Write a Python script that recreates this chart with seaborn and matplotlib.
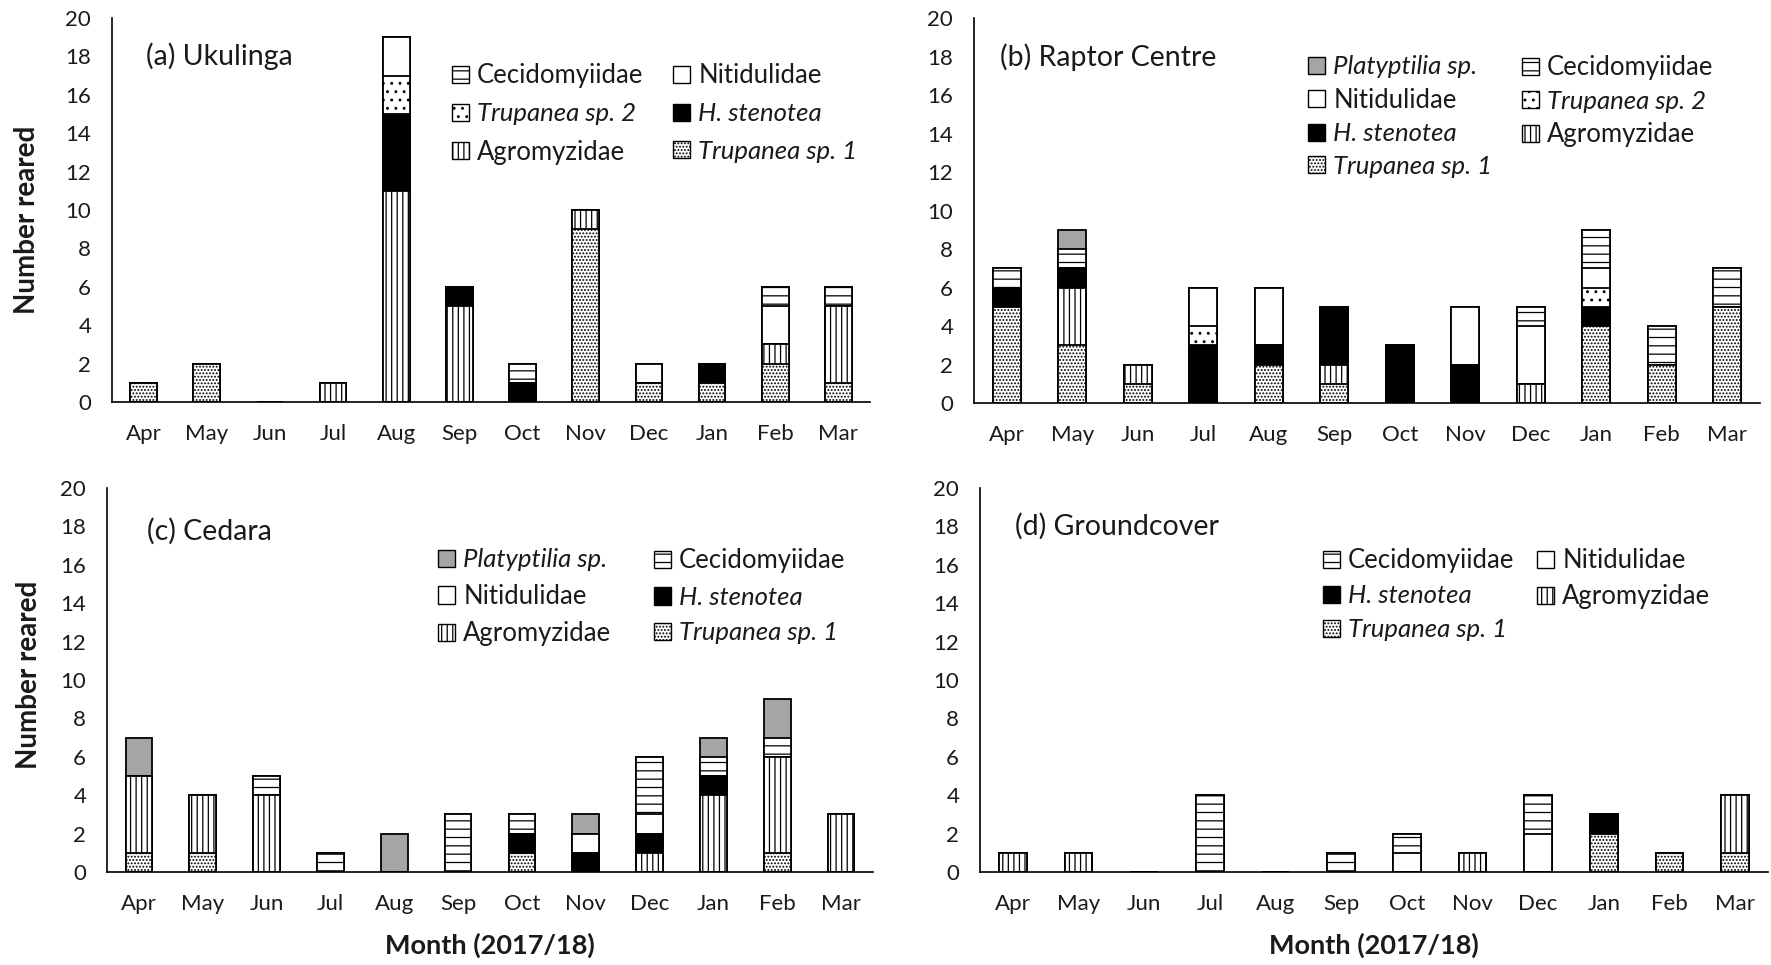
import numpy as np
import pandas as pd
import matplotlib
matplotlib.use("Agg")
import matplotlib.pyplot as plt
import seaborn as sns
from matplotlib.patches import Patch

months = ["Apr", "May", "Jun", "Jul", "Aug", "Sep", "Oct", "Nov", "Dec", "Jan", "Feb", "Mar"]

# stack order, bottom to top
species = ["Trupanea sp. 1", "Agromyzidae", "H. stenotea", "Trupanea sp. 2",
           "Nitidulidae", "Cecidomyiidae", "Platyptilia sp."]
italic_names = ["Trupanea sp. 1", "Trupanea sp. 2", "H. stenotea", "Platyptilia sp."]

# (a) Ukulinga
uk_trup1 = [1, 2, 0, 0, 0, 0, 0, 9, 1, 1, 2, 1]
uk_agro = [0, 0, 0, 1, 11, 5, 0, 1, 0, 0, 1, 4]
uk_hsten = [0, 0, 0, 0, 4, 1, 1, 0, 0, 1, 0, 0]
uk_trup2 = [0, 0, 0, 0, 2, 0, 0, 0, 0, 0, 0, 0]
uk_nitid = [0, 0, 0, 0, 2, 0, 0, 0, 1, 0, 2, 0]
uk_cecid = [0, 0, 0, 0, 0, 0, 1, 0, 0, 0, 1, 1]
uk_platy = [0, 0, 0, 0, 0, 0, 0, 0, 0, 0, 0, 0]

# (b) Raptor Centre
rc_trup1 = [5, 3, 1, 0, 2, 1, 0, 0, 0, 4, 2, 5]
rc_agro = [0, 3, 1, 0, 0, 1, 0, 0, 1, 0, 0, 0]
rc_hsten = [1, 1, 0, 3, 1, 3, 3, 2, 0, 1, 0, 0]
rc_trup2 = [0, 0, 0, 1, 0, 0, 0, 0, 0, 1, 0, 0]
rc_nitid = [0, 0, 0, 2, 3, 0, 0, 3, 3, 1, 0, 0]
rc_cecid = [1, 1, 0, 0, 0, 0, 0, 0, 1, 2, 2, 2]
rc_platy = [0, 1, 0, 0, 0, 0, 0, 0, 0, 0, 0, 0]

# (c) Cedara
ce_trup1 = [1, 1, 0, 0, 0, 0, 1, 0, 0, 0, 1, 0]
ce_agro = [4, 3, 4, 0, 0, 0, 0, 0, 1, 4, 5, 3]
ce_hsten = [0, 0, 0, 0, 0, 0, 1, 1, 1, 1, 0, 0]
ce_trup2 = [0, 0, 0, 0, 0, 0, 0, 0, 0, 0, 0, 0]
ce_nitid = [0, 0, 0, 0, 0, 0, 0, 1, 1, 0, 0, 0]
ce_cecid = [0, 0, 1, 1, 0, 3, 1, 0, 3, 1, 1, 0]
ce_platy = [2, 0, 0, 0, 2, 0, 0, 1, 0, 1, 2, 0]

# (d) Groundcover
gc_trup1 = [0, 0, 0, 0, 0, 0, 0, 0, 0, 2, 1, 1]
gc_agro = [1, 1, 0, 0, 0, 0, 0, 1, 0, 0, 0, 3]
gc_hsten = [0, 0, 0, 0, 0, 0, 0, 0, 0, 1, 0, 0]
gc_trup2 = [0, 0, 0, 0, 0, 0, 0, 0, 0, 0, 0, 0]
gc_nitid = [0, 0, 0, 0, 0, 0, 1, 0, 2, 0, 0, 0]
gc_cecid = [0, 0, 0, 4, 0, 1, 1, 0, 2, 0, 0, 0]
gc_platy = [0, 0, 0, 0, 0, 0, 0, 0, 0, 0, 0, 0]

sites = [
    ("(a) Ukulinga", [uk_trup1, uk_agro, uk_hsten, uk_trup2, uk_nitid, uk_cecid, uk_platy]),
    ("(b) Raptor Centre", [rc_trup1, rc_agro, rc_hsten, rc_trup2, rc_nitid, rc_cecid, rc_platy]),
    ("(c) Cedara", [ce_trup1, ce_agro, ce_hsten, ce_trup2, ce_nitid, ce_cecid, ce_platy]),
    ("(d) Groundcover", [gc_trup1, gc_agro, gc_hsten, gc_trup2, gc_nitid, gc_cecid, gc_platy]),
]

legend_cols = [
    (["Cecidomyiidae", "Trupanea sp. 2", "Agromyzidae"],
     ["Nitidulidae", "H. stenotea", "Trupanea sp. 1"]),
    (["Platyptilia sp.", "Nitidulidae", "H. stenotea", "Trupanea sp. 1"],
     ["Cecidomyiidae", "Trupanea sp. 2", "Agromyzidae"]),
    (["Platyptilia sp.", "Nitidulidae", "Agromyzidae"],
     ["Cecidomyiidae", "H. stenotea", "Trupanea sp. 1"]),
    (["Cecidomyiidae", "H. stenotea", "Trupanea sp. 1"],
     ["Nitidulidae", "Agromyzidae"]),
]

styles = {
    "Trupanea sp. 1": dict(color="white", hatch="....."),
    "Agromyzidae": dict(color="white", hatch="|||"),
    "H. stenotea": dict(color="black", hatch=None),
    "Trupanea sp. 2": dict(color="white", hatch=".."),
    "Nitidulidae": dict(color="white", hatch=None),
    "Cecidomyiidae": dict(color="white", hatch="--"),
    "Platyptilia sp.": dict(color="#a5a5a5", hatch=None),
}

sns.set_style("white")
plt.rcParams["font.family"] = ["Lato", "DejaVu Sans"]
plt.rcParams["hatch.linewidth"] = 0.9

W, H = 1771, 965
fig = plt.figure(figsize=(W / 100, H / 100), dpi=100)

# axes boxes in pixels: left, right, top, bottom
boxes = [(112, 870, 18, 402), (974, 1760, 18, 403), (107, 873, 488, 872), (980, 1768, 488, 872)]
title_pos = [(146, 56), (1000, 57), (147, 531), (1015, 526)]
leg_pos = [((452, 673), 75, 0.55), ((1308, 1522), 67, 0.37), ((438, 654), 560, 0.49), ((1323, 1537), 560, 0.43)]
LEG_FS = 18.5


def add_legend(ax, names, x_px, y_center, spacing):
    handles = [Patch(facecolor=styles[n]["color"], hatch=styles[n]["hatch"],
                     edgecolor="black", linewidth=1.0) for n in names]
    leg = ax.legend(handles, names, loc="upper left",
                    bbox_to_anchor=(x_px / W, 1 - (y_center - 11.7) / H),
                    bbox_transform=fig.transFigure, frameon=False, fontsize=LEG_FS,
                    handlelength=0.66, handleheight=0.66, handletextpad=0.32,
                    borderpad=0, borderaxespad=0, labelspacing=spacing)
    for t in leg.get_texts():
        if t.get_text() in italic_names:
            t.set_fontstyle("italic")
        t.set_color("#1a1a1a")
    ax.add_artist(leg)
    ax.legend_ = None


for i, (title, counts) in enumerate(sites):
    l, r, t, b = boxes[i]
    ax = fig.add_axes([l / W, 1 - b / H, (r - l) / W, (b - t) / H])
    cum = np.cumsum(np.array(counts), axis=0)
    # draw from the top layer down so each lower segment covers the one above
    for k in range(len(species) - 1, -1, -1):
        st = styles[species[k]]
        sns.barplot(x=months, y=cum[k], order=months, ax=ax, color=st["color"],
                    saturation=1, width=0.42, hatch=st["hatch"], edgecolor="black",
                    linewidth=1.3, errorbar=None)
    ax.set_xlim(-0.5, 11.5)
    ax.set_ylim(0, 20)
    ax.set_yticks(range(0, 21, 2))
    ax.set_xticks(np.arange(-0.5, 12, 1), minor=True)
    ax.tick_params(axis="x", which="major", length=0, labelsize=16, pad=16, colors="#1a1a1a")
    ax.tick_params(axis="x", which="minor", length=6, width=1.2, direction="out", color="black")
    ax.tick_params(axis="y", length=5, width=1.2, direction="out", labelsize=16, pad=10,
                   color="black", labelcolor="#1a1a1a")
    ax.set_xlabel("")
    ax.set_ylabel("")
    sns.despine(ax=ax)
    for s in ["left", "bottom"]:
        ax.spines[s].set_color("black")
        ax.spines[s].set_linewidth(1.2)
    fig.text(title_pos[i][0] / W, 1 - title_pos[i][1] / H, title, fontsize=20.5,
             ha="left", va="center", color="#1a1a1a")
    (x1, x2), yc, sp = leg_pos[i]
    add_legend(ax, legend_cols[i][0], x1, yc, sp)
    add_legend(ax, legend_cols[i][1], x2, yc, sp)

fig.text(27 / W, 1 - 220 / H, "Number reared", rotation=90, fontsize=20,
         fontweight="bold", ha="center", va="center", color="#1a1a1a")
fig.text(29 / W, 1 - 675 / H, "Number reared", rotation=90, fontsize=20,
         fontweight="bold", ha="center", va="center", color="#1a1a1a")
fig.text(490 / W, 1 - 945 / H, "Month (2017/18)", fontsize=19.5,
         fontweight="bold", ha="center", va="center", color="#1a1a1a")
fig.text(1374 / W, 1 - 945 / H, "Month (2017/18)", fontsize=19.5,
         fontweight="bold", ha="center", va="center", color="#1a1a1a")

fig.savefig("out.png", dpi=100, facecolor="white")
